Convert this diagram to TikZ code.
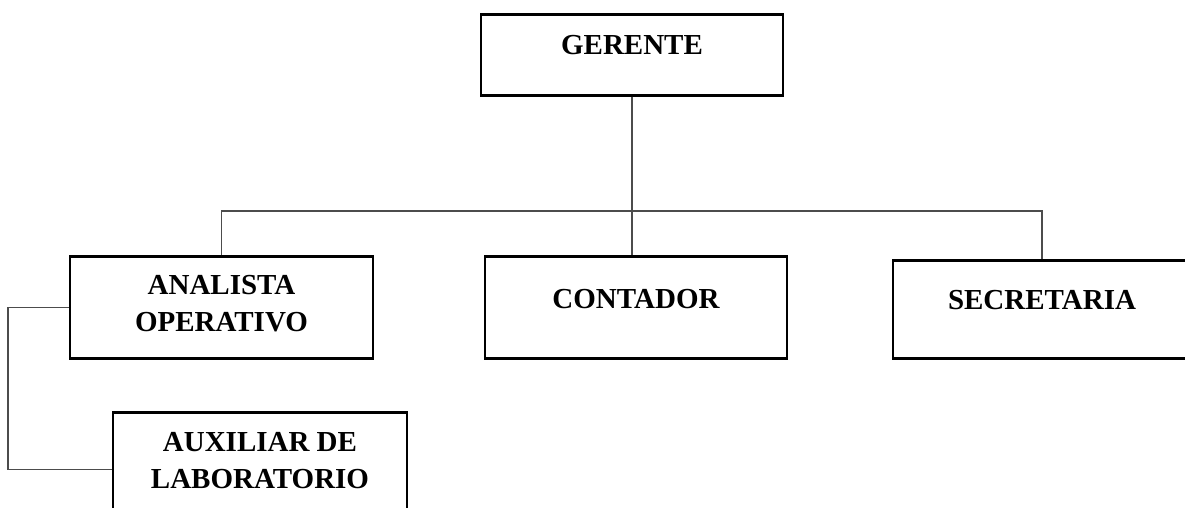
\documentclass[tikz,border=0pt]{standalone}
\usepackage{fontspec}
\setmainfont{Liberation Serif}
\usetikzlibrary{positioning}

\definecolor{linea}{gray}{0.3}

\tikzset{
    puesto/.style={draw=black, line width=1.3pt, rectangle, inner sep=0pt,
        anchor=north, align=center,
        font=\fontsize{14.5}{18.5}\selectfont\bfseries},
    rama/.style={draw=linea, line width=0.55pt}
}

\begin{document}
\begin{tikzpicture}[x=0.5pt, y=-0.5pt]
        % Marco de la figura.
        \useasboundingbox (0,0) rectangle (1185,508);

        % Puestos del organigrama.
        \node[puesto, minimum width=151pt, text height=20pt, text depth=20.5pt]
            (gerente) at (632,13) {GERENTE};
        \node[puesto, minimum width=151.5pt, text height=37.5pt, text depth=13.5pt]
            (analista) at (221.5,255) {ANALISTA\\OPERATIVO};
        \node[puesto, minimum width=151pt, text height=26pt, text depth=25pt]
            (contador) at (636,255) {CONTADOR};
        \node[puesto, minimum width=149pt, text height=24.5pt, text depth=24.5pt]
            (secretaria) at (1042,259) {SECRETARIA};
        \node[puesto, minimum width=147pt, text height=38pt, text depth=19pt]
            (auxiliar) at (260,411) {AUXILIAR DE\\LABORATORIO};

        % Puntos de quiebre de las ramas.
        \coordinate (bus) at (632,211);
        \coordinate (codo) at (8,468);

        % Ramas desde el gerente.
        \draw[rama] (gerente.south) -- (gerente.south |- contador.north);
        \draw[rama] (analista.north) |- (bus) -| (secretaria.north);

        % Rama del analista al auxiliar.
        \draw[rama] (analista.west) -| (codo) |- (auxiliar.west);
    \end{tikzpicture}
\end{document}
